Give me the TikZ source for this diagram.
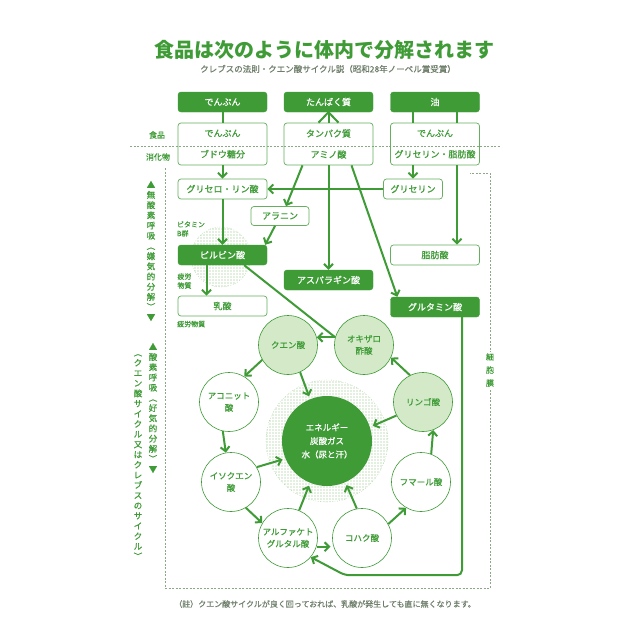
\documentclass[tikz,border=0pt]{standalone}
\usepackage{fontspec}
\setmainfont{Noto Sans CJK JP}[UprightFeatures={FakeBold=0.6}]
\usetikzlibrary{arrows.meta,patterns.meta}
\definecolor{leaf}{HTML}{3E9B36}
\definecolor{pale}{HTML}{D3E9C8}
\definecolor{dotc}{HTML}{86C077}
\definecolor{rule}{HTML}{8DA889}
\definecolor{note}{HTML}{6F7F6B}
\tikzset{
  solidbox/.style={draw=leaf, fill=leaf, text=white, rounded corners=3pt, minimum width=89, minimum height=20, inner sep=0pt, font=\fontsize{9}{11}\selectfont},
  openbox/.style={draw=leaf!80, line width=0.7pt, text=leaf, rounded corners=3pt, minimum width=89, minimum height=20, inner sep=0pt, font=\fontsize{9}{11}\selectfont},
  twoline/.style={openbox, minimum height=42, align=center, font=\fontsize{9}{21}\selectfont},
  stage/.style={circle, draw=leaf, line width=0.6pt, fill=white, text=leaf, minimum size=59, inner sep=0pt, align=center, font=\fontsize{8.5}{12}\selectfont},
  palestage/.style={stage, fill=pale},
  dotdisc/.style={circle, draw=dotc, dotted, pattern={Dots[radius=0.6pt,distance=3pt]}, pattern color=dotc},
  flow/.style={draw=leaf, line width=2pt, -{Straight Barb[length=4.5pt,width=9pt]}},
  plainline/.style={draw=leaf, line width=2pt},
  guide/.style={draw=rule, line width=0.5pt, dash pattern=on 2pt off 1.5pt},
  vlabel/.style={text=leaf, align=center, inner sep=0pt, font=\fontsize{8.5}{10.2}\selectfont},
  smalltag/.style={text=leaf, align=left, inner sep=0pt, font=\fontsize{7}{9}\selectfont},
}
\begin{document}
\begin{tikzpicture}[x=1pt,y=-1pt]
\fill[white] (0,0) rectangle (640,640);
\useasboundingbox (0,0) rectangle (640,640);

\node[font=\fontsize{20}{22}\selectfont\bfseries, text=leaf] (title) at (324,50) {食品は次のように体内で分解されます};
\node[font=\fontsize{8.5}{10}\selectfont, text=note] (subtitle) at (328,69) {クレブスの法則・クエン酸サイクル説（昭和28年ノーベル賞受賞）};

\draw[guide] (130,146) -- (500,146);
\draw[guide] (165,168) -- (165,588) -- (490,588) -- (490,173) -- (470,173);
\node[vlabel, fill=white, font=\fontsize{8}{13}\selectfont, inner sep=1pt] (membrane) at (490,370) {細\\胞\\膜};

\node[vlabel] (anaer) at (151,251) {▲\\無\\酸\\素\\呼\\吸\\︵\\嫌\\気\\的\\分\\解\\︶\\▼};
\node[vlabel] (aer) at (153,408) {▲\\酸\\素\\呼\\吸\\︵\\好\\気\\的\\分\\解\\︶\\▼};
\node[vlabel] (krebs) at (138,457) {︵\\ク\\エ\\ン\\酸\\サ\\イ\\ク\\ル\\又\\は\\ク\\レ\\ブ\\ス\\の\\サ\\イ\\ク\\ル\\︶};

\node[smalltag, font=\fontsize{8}{10}\selectfont] (food) at (157,135) {食品};
\node[smalltag, font=\fontsize{8}{10}\selectfont] (digest) at (158,157) {消化物};

\node[solidbox] (tsta) at (222.5,102) {でんぷん};
\node[solidbox] (tpro) at (328.5,102) {たんぱく質};
\node[solidbox] (tfat) at (435,102) {油};
\node[twoline] (fsta) at (222.5,144) {でんぷん\\ブドウ糖分};
\node[twoline] (fpro) at (328.5,144) {タンパク質\\アミノ酸};
\node[twoline] (ffat) at (435,144) {でんぷん\\グリセリン・脂肪酸};

\node[dotdisc, minimum size=60] (vitdisc) at (221,257) {};
\node[smalltag] (vitamin) at (191,229) {ビタミン\\B群};
\node[openbox] (glp) at (222.5,189) {グリセロ・リン酸};
\node[openbox, minimum width=58, minimum height=19] (ala) at (280,216) {アラニン};
\node[openbox, minimum width=59] (gly) at (413,189) {グリセリン};
\node[solidbox] (pyr) at (222.5,255) {ピルビン酸};
\node[smalltag] (fatigue) at (184.5,281) {疲労\\物質};
\node[openbox] (lac) at (222.5,306) {乳酸};
\node[smalltag, anchor=west] (fatigue2) at (177,324) {疲労物質};
\node[solidbox] (asp) at (328.5,280) {アスパラギン酸};
\node[openbox] (fa) at (435,255) {脂肪酸};
\node[solidbox] (glu) at (435,307) {グルタミン酸};

\node[dotdisc, minimum size=122] (ring) at (327,441) {};
\node[circle, fill=leaf, text=white, minimum size=90, inner sep=0pt, align=center, font=\fontsize{8.5}{13.5}\selectfont] (core) at (327,441) {エネルギー\\炭酸ガス\\水（尿と汗）};
\node[palestage] (cit) at (288,345) {クエン酸};
\node[palestage] (oxa) at (364,345) {オキザロ\\酢酸};
\node[stage] (aco) at (229,402) {アコニット\\酸};
\node[palestage] (mal) at (423,402) {リンゴ酸};
\node[stage] (iso) at (231,482) {イソクエン\\酸};
\node[stage] (fum) at (421,482) {フマール酸};
\node[stage] (akg) at (288,538) {アルファケト\\グルタル酸};
\node[stage] (suc) at (362,538) {コハク酸};

\node[font=\fontsize{8}{10}\selectfont, text=note] (footnote) at (325,604) {（註）クエン酸サイクルが良く回っておれば、乳酸が発生しても直に無くなります。};

\draw[plainline] (tsta.south) -- (fsta.north);
\draw[plainline] (tpro.south) -- ([xshift=-10]fpro.north);
\draw[plainline] (tpro.south) -- (fpro.north);
\draw[plainline] (tpro.south) -- ([xshift=10]fpro.north);
\draw[plainline] ([xshift=-22]tfat.south) -- ([xshift=-22]ffat.north);
\draw[plainline] ([xshift=22]tfat.south) -- ([xshift=22]ffat.north);

\draw[flow] (fsta.south) -- (glp.north);
\draw[flow] ([xshift=-26]fpro.south) -- ([xshift=6]ala.north);
\draw[flow] (fpro.south) -- (asp.north);
\draw[flow] ([xshift=23]fpro.south) -- ([xshift=7]glu.north west);
\draw[flow] ([xshift=-22]ffat.south) -- (gly.north);
\draw[flow] ([xshift=22]ffat.south) -- ([xshift=22]fa.north);
\draw[flow] (gly.west) -- (glp.east);
\draw[flow] ([xshift=-5]ala.south) -- ([xshift=-2]pyr.north east);
\draw[flow] (glp.south) -- (pyr.north);
\draw[flow] ([xshift=-16]pyr.south) -- ([xshift=-16]lac.north);
\draw[plainline] ([xshift=-23]pyr.south east) -- (oxa.165);

\draw[flow] (oxa.165) -- (cit.15);
\draw[flow] (cit.210) -- (aco.59);
\draw[flow, shorten >=3pt] (cit.294) -- (core.112);
\draw[flow] (aco.258) -- (iso.100);
\draw[flow, shorten >=3pt] (iso.30) -- (core.203);
\draw[flow] (iso.300) -- (akg.150);
\draw[flow, shorten >=3pt] (akg.68) -- (core.248);
\draw[flow, shorten >=3pt] (akg.343) -- (suc.197);
\draw[flow, shorten >=3pt] (suc.100) -- (core.294);
\draw[flow] (suc.28) -- (fum.240);
\draw[flow] (fum.70) -- (mal.290);
\draw[flow, shorten >=3pt] (mal.207) -- (core.18);
\draw[flow] (mal.116) -- (oxa.335);
\draw[flow, rounded corners=5pt] ([xshift=27]glu.south) -- ++(0,258) -- ++(-117,0) -- (akg.320);
\end{tikzpicture}
\end{document}
